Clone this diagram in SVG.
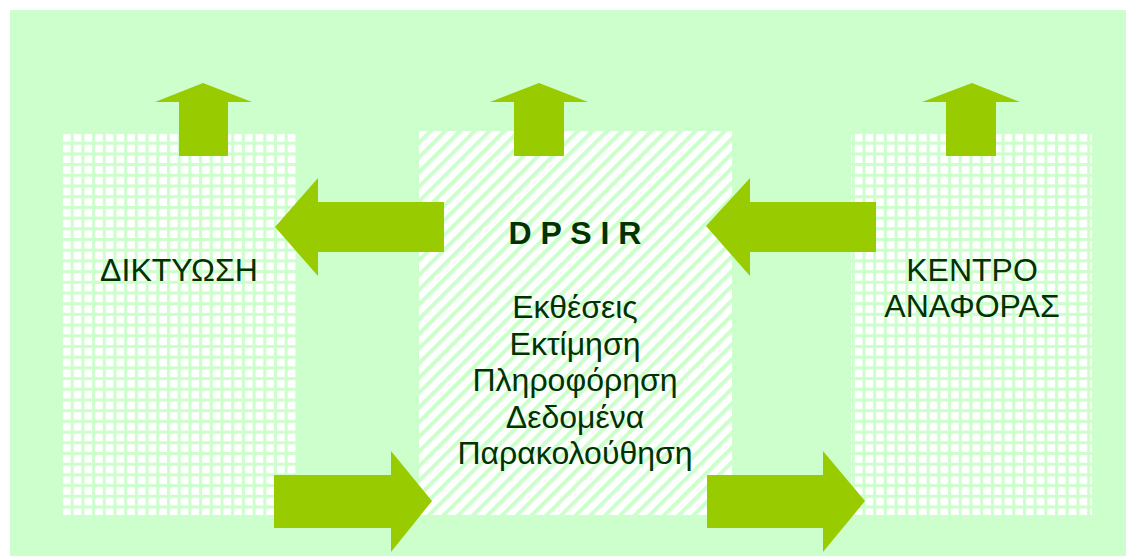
<svg xmlns="http://www.w3.org/2000/svg" width="1126" height="556" viewBox="0 0 1126 556">
<style>
.bg{fill:#CCFFCC}
.arrow{fill:#99CC00}
.t{font-family:"Liberation Sans",Arial,sans-serif;font-size:32px;fill:#003300;text-anchor:middle}
.b{font-weight:bold}
</style>
<defs>
<pattern id="grid" patternUnits="userSpaceOnUse" x="60" y="131" width="10.7" height="10.7">
<rect width="10.7" height="10.7" fill="#CCFFCC"/>
<rect x="3" y="3" width="7.7" height="7.7" fill="#FFFFFF"/>
</pattern>
<pattern id="hatch" patternUnits="userSpaceOnUse" width="10.4" height="10.4" patternTransform="rotate(45)">
<rect width="10.4" height="10.4" fill="#FFFFFF"/>
<rect width="4" height="10.4" fill="#CCFFCC"/>
</pattern>
</defs>
<rect class="bg" x="10" y="10" width="1116" height="546"/>
<g id="node-diktyosi">
<rect x="60" y="131" width="238" height="384" fill="url(#grid)"/>
<text class="t" x="179" y="281">ΔΙΚΤΥΩΣΗ</text>
</g>
<g id="node-dpsir">
<rect x="419" y="131" width="313" height="384" fill="url(#hatch)"/>
<text class="t b" x="575" y="244">D P S I R</text>
<text class="t" x="575" y="318">Εκθέσεις</text>
<text class="t" x="575" y="354.5">Εκτίμηση</text>
<text class="t" x="575" y="391">Πληροφόρηση</text>
<text class="t" x="575" y="427.5">Δεδομένα</text>
<text class="t" x="575" y="464">Παρακολούθηση</text>
</g>
<g id="node-kentro">
<rect x="851" y="131" width="241" height="384" fill="url(#grid)"/>
<text class="t" x="972" y="281">ΚΕΝΤΡΟ</text>
<text class="t" x="972" y="317">ΑΝΑΦΟΡΑΣ</text>
</g>
<g id="connectors">
<polygon class="arrow" points="203,83 252,102 228,102 228,156 179,156 179,102 155,102"/>
<polygon class="arrow" points="539,83 588,102 564,102 564,156 514,156 514,102 490,102"/>
<polygon class="arrow" points="972,83 1020,102 996,102 996,156 946,156 946,102 922,102"/>
<polygon class="arrow" points="275,227 318,178 318,202 444,202 444,252 318,252 318,276"/>
<polygon class="arrow" points="706,226 750,178 750,202 876,202 876,252 750,252 750,276"/>
<polygon class="arrow" points="274,475 391,475 391,451 432,501 391,552 391,528 274,528"/>
<polygon class="arrow" points="707,475 823,475 823,451 865,501 823,552 823,528 707,528"/>
</g>
</svg>
